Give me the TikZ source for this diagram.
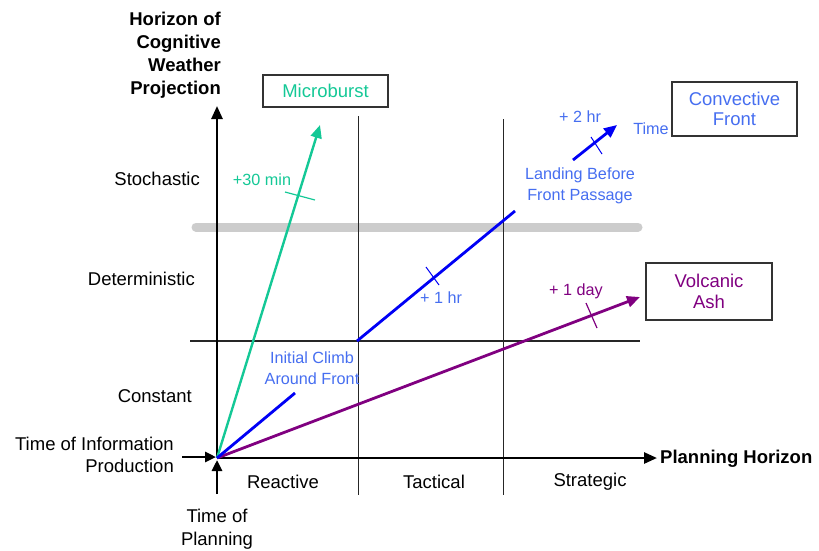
\documentclass[tikz,border=0pt]{standalone}
\usepackage{fontspec}
\setmainfont{Liberation Sans}
\usetikzlibrary{arrows.meta}
\definecolor{tealg}{RGB}{20,200,150}
\definecolor{bluet}{RGB}{70,110,240}
\definecolor{bluel}{RGB}{0,0,245}
\definecolor{purp}{RGB}{128,0,128}
\begin{document}
\begin{tikzpicture}[x=1pt,y=-1pt,
  lbl/.style={inner sep=0pt,font=\fontsize{18.5}{22.5}\selectfont},
  sm/.style={inner sep=0pt,font=\fontsize{16.2}{21}\selectfont},
  bx/.style={draw=black!80,line width=1.5pt,inner sep=0pt,font=\fontsize{18.5}{22.5}\selectfont,align=center},
  axis/.style={line width=2.6pt,-{Triangle[length=13pt,width=11pt]}},
  grid/.style={line width=1pt,black!85},
  cl/.style={line width=2.8pt},
  ca/.style={line width=2.8pt,-{Triangle[length=13pt,width=11pt]}},
  tick/.style={line width=1pt}]
\useasboundingbox (0,0) rectangle (819,550);
% coordinates
\coordinate (O) at (217,458);
\coordinate (ytop) at (217,106);
\coordinate (xend) at (657,458);
\coordinate (pb) at (217,494);
\coordinate (pt) at (217,460);
\coordinate (ib) at (182,457);
\coordinate (it) at (216,457);
% gray band
\coordinate (g1) at (196,227);
\coordinate (g2) at (638,227);
\draw[line width=9pt,black!20,line cap=round] (g1) -- (g2);
% grid lines
\coordinate (h1) at (190,341);
\coordinate (h2) at (640,341);
\draw[grid,line width=1.3pt] (h1) -- (h2);
\coordinate (v1a) at (358,116);
\coordinate (v1b) at (358,495);
\coordinate (v2a) at (503,119);
\coordinate (v2b) at (503,495);
\draw[grid] (v1a) -- (v1b);
\draw[grid] (v2a) -- (v2b);
% axes
\draw[axis] (O) -- (ytop);
\draw[axis] (O) -- (xend);
\draw[line width=2.6pt,-{Triangle[length=11pt,width=10pt]}] (pb) -- (pt);
\draw[line width=2.6pt,-{Triangle[length=11pt,width=10pt]}] (ib) -- (it);
% green
\coordinate (gt) at (320,125);
\draw[ca,tealg,line width=2.4pt] (O) -- (gt);
\coordinate (gk1) at (285,192);
\coordinate (gk2) at (315,200);
\draw[tick,tealg,line width=1.2pt] (gk1) -- (gk2);
% purple
\coordinate (pu) at (640,297);
\draw[ca,purp] (O) -- (pu);
\coordinate (pk1) at (586,303);
\coordinate (pk2) at (597,328);
\draw[tick,purp,line width=1.2pt] (pk1) -- (pk2);
% blue
\coordinate (b1) at (295,393);
\draw[cl,bluel] (O) -- (b1);
\coordinate (b2) at (357,341);
\coordinate (b3) at (515,211);
\draw[cl,bluel] (b2) -- (b3);
\coordinate (bk1) at (426,267);
\coordinate (bk2) at (439,285);
\draw[tick,bluel] (bk1) -- (bk2);
\coordinate (b4) at (573,160);
\coordinate (b5) at (617,125);
\draw[ca,bluel] (b4) -- (b5);
\coordinate (bk3) at (591,137);
\coordinate (bk4) at (602,154);
\draw[tick,bluel] (bk3) -- (bk4);
% boxes
\node[bx,text=tealg,minimum width=125pt,minimum height=32pt] (mb) at (325.5,91) {Microburst};
\node[bx,text=bluet,minimum width=125pt,minimum height=54pt] (cf) at (734.5,109) {Convective\\[-2pt]Front};
\node[bx,text=purp,minimum width=126pt,minimum height=57pt] (va) at (709,291.5) {Volcanic\\[-2pt]Ash};
% labels
\node[lbl,font=\fontsize{18.5}{23}\selectfont\bfseries,align=right,anchor=north east] (title) at (221,12) {Horizon of\\Cognitive\\Weather\\Projection};
\node[lbl,anchor=east] (st) at (200,179) {Stochastic};
\node[lbl,anchor=east] (de) at (195,279) {Deterministic};
\node[lbl,anchor=east] (co) at (192,396) {Constant};
\node[lbl,anchor=east,align=right] (tip) at (174,455) {Time of Information\\Production};
\node[lbl,align=center] (tpl) at (217,529) {Time of\\Planning};
\node[lbl] (re) at (283,482) {Reactive};
\node[lbl] (ta) at (434,482) {Tactical};
\node[lbl] (sg) at (590,482) {Strategic};
\node[lbl,font=\fontsize{18.5}{22.5}\selectfont\bfseries,anchor=west] (ph) at (660,459) {Planning Horizon};
\node[sm,tealg] (l30) at (262,180) {+30 min};
\node[sm,bluet] (l1h) at (441,298) {+ 1 hr};
\node[sm,bluet] (l2h) at (580,117) {+ 2 hr};
\node[sm,bluet] (lt) at (651,129) {Time};
\node[sm,purp] (l1d) at (576,291) {+ 1 day};
\node[sm,bluet,align=center] (ic) at (312,368) {Initial Climb\\Around Front};
\node[sm,bluet,align=center] (lb) at (580,186) {Landing Before\\Front Passage};
\end{tikzpicture}
\end{document}
